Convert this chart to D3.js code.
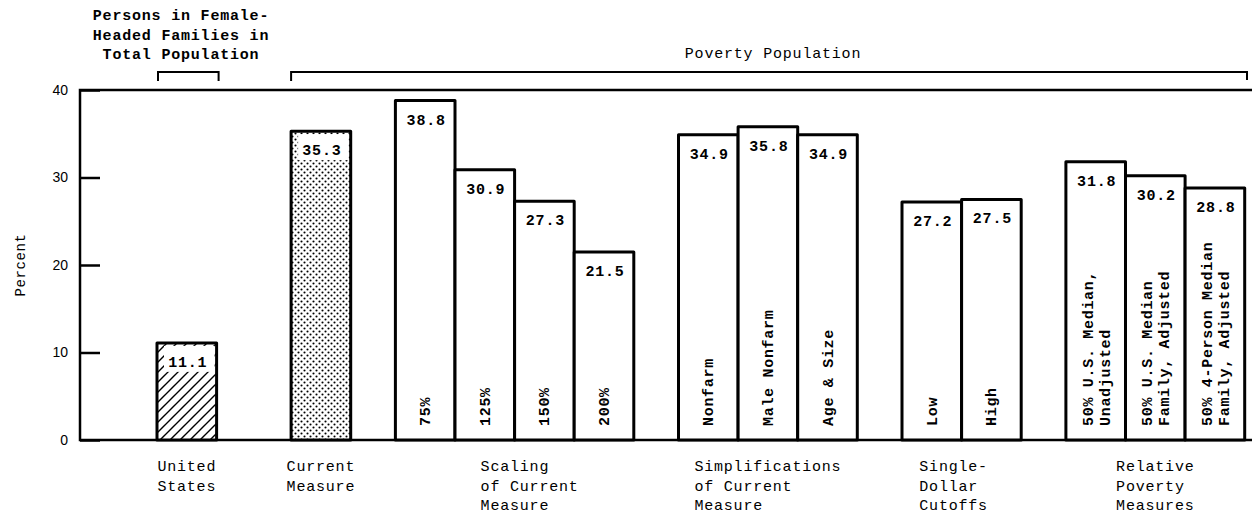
<!DOCTYPE html>
<html>
<head>
<meta charset="utf-8">
<script src="https://cdn.jsdelivr.net/npm/d3@7"></script>
<style>
  html, body { margin: 0; padding: 0; background: #fff; }
  svg { display: block; }
  text { font-family: "Liberation Mono", "DejaVu Sans Mono", monospace; fill: #000; }
</style>
</head>
<body>
<svg id="chart" width="1252" height="514"></svg>
<script>
// ---- data ----
const values = [11.1, 35.3, 38.8, 30.9, 27.3, 21.5, 34.9, 35.8, 34.9, 27.2, 27.5, 31.8, 30.2, 28.8];
const barGroup = [0, 1, 2, 2, 2, 2, 3, 3, 3, 4, 4, 5, 5, 5];
const barLabels = [
  [], [], ["75%"], ["125%"], ["150%"], ["200%"],
  ["Nonfarm"], ["Male Nonfarm"], ["Age & Size"],
  ["Low"], ["High"],
  ["50% U.S. Median,", "Unadjusted"],
  ["50% U.S. Median", "Family, Adjusted"],
  ["50% 4-Person Median", "Family, Adjusted"]
];
const barFill = ["hatch", "dots", "white", "white", "white", "white", "white", "white", "white", "white", "white", "white", "white", "white"];
const groupLabels = [
  ["United", "States"],
  ["Current", "Measure"],
  ["Scaling", "of Current", "Measure"],
  ["Simplifications", "of Current", "Measure"],
  ["Single-", "Dollar", "Cutoffs"],
  ["Relative", "Poverty", "Measures"]
];
const yTicks = [0, 10, 20, 30, 40];
const yTitle = "Percent";
const noteLeft = ["Persons in Female-", "Headed Families in", "Total Population"];
const noteRight = "Poverty Population";

// ---- layout ----
const svg = d3.select("#chart");
const pLeft = 80, pRight = 1252, pTop = 90, pBottom = 440;
const y = d3.scaleLinear().domain([0, 40]).range([pBottom, pTop]);
// position in bar-width units: bar index + group gaps
const slot = values.map((v, i) => i + barGroup[i] * 0.75 + (barGroup[i] > 0 ? 0.5 : 0));
const x = d3.scaleLinear().domain([0, 1]).range([157, 216.6]);
const bw = x(1) - x(0);
const CH = 9.8; // character pitch
const FS = "15px", LS = "0.8px";

// patterns
const defs = svg.append("defs");
const hp = defs.append("pattern").attr("id", "hatch").attr("patternUnits", "userSpaceOnUse")
  .attr("width", 10).attr("height", 10);
hp.append("rect").attr("width", 10).attr("height", 10).attr("fill", "#fff");
hp.append("path").attr("d", "M-1,1 L1,-1 M0,10 L10,0 M9,11 L11,9")
  .attr("stroke", "#000").attr("stroke-width", 1.4);
const dp = defs.append("pattern").attr("id", "dots").attr("patternUnits", "userSpaceOnUse")
  .attr("width", 6).attr("height", 6);
dp.append("rect").attr("width", 6).attr("height", 6).attr("fill", "#fff");
dp.append("circle").attr("cx", 1.5).attr("cy", 1.5).attr("r", 1.05).attr("fill", "#000");
dp.append("circle").attr("cx", 4.5).attr("cy", 4.5).attr("r", 1.05).attr("fill", "#000");

// frame
svg.append("path")
  .attr("d", `M${pRight},${pTop} H${pLeft} V${pBottom} H${pRight}`)
  .attr("fill", "none").attr("stroke", "#000").attr("stroke-width", 2.5);

// y axis
const yAxis = d3.axisLeft(y).tickValues(yTicks).tickSize(-20).tickPadding(12).tickFormat(d3.format("d"));
const ga = svg.append("g").attr("transform", `translate(${pLeft},0)`).call(yAxis);
ga.select(".domain").remove();
ga.selectAll(".tick line").attr("stroke", "#000").attr("stroke-width", 2.5);
ga.selectAll(".tick text").style("font-family", "'Liberation Sans', sans-serif").style("font-size", "14px");

svg.append("text")
  .attr("transform", `translate(${25},${265}) rotate(-90)`)
  .attr("text-anchor", "middle")
  .style("font-size", "14px").style("letter-spacing", "0.6px")
  .text(yTitle);

// bars
const bars = svg.append("g").selectAll("g").data(values).join("g");
bars.append("rect")
  .attr("x", (d, i) => x(slot[i]))
  .attr("y", d => y(d))
  .attr("width", bw)
  .attr("height", d => y(0) - y(d))
  .attr("fill", (d, i) => barFill[i] === "white" ? "#fff" : `url(#${barFill[i]})`)
  .attr("stroke", "#000").attr("stroke-width", 3).attr("stroke-linejoin", "round");

// white boxes behind values on patterned bars
bars.filter((d, i) => barFill[i] !== "white").append("rect")
  .attr("x", (d, i) => x(slot[i]) + 7)
  .attr("y", d => y(d) + 3)
  .attr("width", bw - 9)
  .attr("height", 26)
  .attr("fill", "#fff");

bars.append("text")
  .attr("x", (d, i) => x(slot[i]) + bw / 2 + 1)
  .attr("y", d => y(d) + 24)
  .attr("text-anchor", "middle")
  .style("font-size", FS).style("font-weight", "bold").style("letter-spacing", LS)
  .text(d => d.toFixed(1));

// rotated bar labels
bars.each(function (d, i) {
  const lines = barLabels[i];
  if (!lines.length) return;
  const cx = x(slot[i]) + bw / 2;
  const g = d3.select(this).append("g")
    .attr("transform", `translate(${cx},${426}) rotate(-90)`);
  const offs = lines.length === 1 ? [5] : [-3, 14];
  lines.forEach((t, k) => {
    g.append("text").attr("x", 0).attr("y", offs[k])
      .style("font-size", FS).style("font-weight", "bold").style("letter-spacing", "0.7px")
      .text(t);
  });
});

// group labels under axis
const nudge = [0, 0, 15, 0, -8, 0];
groupLabels.forEach((lines, g) => {
  const idx = barGroup.map((bg, i) => bg === g ? i : -1).filter(i => i >= 0);
  const x0 = x(slot[idx[0]]), x1 = x(slot[idx[idx.length - 1]]) + bw;
  const maxLen = d3.max(lines, l => l.length) * CH;
  const lx = (x0 + x1) / 2 - maxLen / 2 + nudge[g];
  lines.forEach((t, k) => {
    svg.append("text").attr("x", lx).attr("y", 471 + k * 19.5)
      .style("font-size", FS).style("letter-spacing", LS)
      .text(t);
  });
});

// top annotations
noteLeft.forEach((t, k) => {
  svg.append("text").attr("x", 181).attr("y", 20 + k * 19.5)
    .attr("text-anchor", "middle")
    .style("font-size", FS).style("font-weight", "bold").style("letter-spacing", LS)
    .text(t);
});
svg.append("text").attr("x", 773).attr("y", 58)
  .attr("text-anchor", "middle")
  .style("font-size", FS).style("letter-spacing", LS)
  .text(noteRight);

// brackets
const usX0 = x(slot[0]), usX1 = x(slot[0]) + bw;
svg.append("path").attr("d", `M${usX0 + 1},81 V72 H${usX1 + 2} V81`)
  .attr("fill", "none").attr("stroke", "#000").attr("stroke-width", 2);
const pvX0 = x(slot[1]);
svg.append("path").attr("d", `M${pvX0},81 V72 H1247 V80`)
  .attr("fill", "none").attr("stroke", "#000").attr("stroke-width", 2);
</script>
</body>
</html>
